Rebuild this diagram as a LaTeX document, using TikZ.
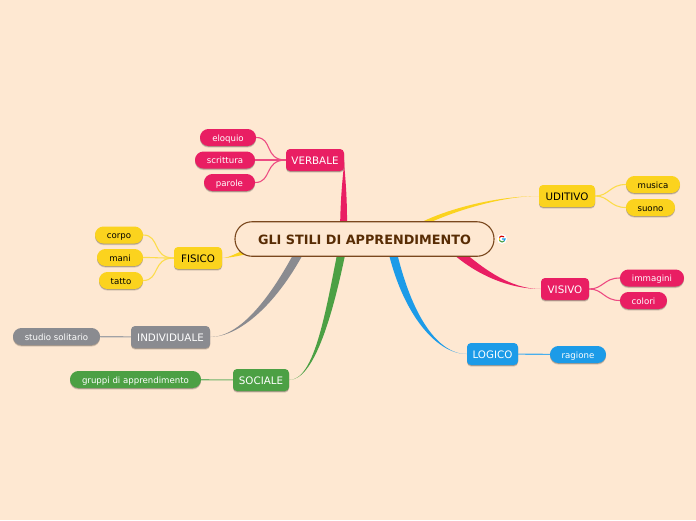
\documentclass[tikz,border=0pt]{standalone}
\usepackage{fontspec}
\setmainfont{DejaVu Sans}
\usetikzlibrary{calc,shadows,backgrounds}
\definecolor{paper}{RGB}{254,232,210}
\definecolor{rootline}{RGB}{122,72,30}
\definecolor{roottext}{RGB}{88,44,4}
\definecolor{mapred}{RGB}{233,30,99}
\definecolor{mapyellow}{RGB}{251,211,30}
\definecolor{mapgray}{RGB}{138,139,144}
\definecolor{mapgreen}{RGB}{76,160,68}
\definecolor{mapblue}{RGB}{28,155,232}
\tikzset{
  boxshadow/.style={drop shadow={shadow xshift=0pt,shadow yshift=-1.6pt,opacity=.14,fill=black},drop shadow={shadow xshift=0pt,shadow yshift=-.8pt,opacity=.22,fill=black}},
  rootbox/.style={draw=rootline,line width=1.1pt,fill=paper,rounded corners=17pt,inner sep=0pt,text=roottext,text height=13pt,text depth=2pt,font=\fontsize{12.8}{14}\selectfont\bfseries},
  topicbox/.style={fill=#1,boxshadow,rounded corners=4pt,inner sep=0pt,text height=10.6pt,text depth=2pt,font=\fontsize{10.3}{12}\selectfont},
  leafbox/.style={fill=#1,boxshadow,rounded corners=8.4pt,inner sep=0pt,text height=8.8pt,text depth=1.4pt,font=\fontsize{8.6}{10}\selectfont},
  twig/.style={draw=#1!80!white,line width=1.1pt}
}
% start, offset, control, control, end
\newcommand{\taperbranch}[6]{
  \fill[#1] ($(#2)+(#3)$) .. controls ($(#4)+(#3)$) and (#5) .. (#6)
    .. controls (#5) and ($(#4)-(#3)$) .. ($(#2)-(#3)$) -- cycle;
}
\begin{document}
\begin{tikzpicture}[x=1pt,y=-1pt]
\useasboundingbox (0,0) rectangle (696,520);
% root:
\node[rootbox,minimum width=259pt,minimum height=34.5pt] (root) at (364.5,239) {GLI STILI DI APPRENDIMENTO};
% topics:
\node[topicbox=mapred,text=white,minimum width=58pt,minimum height=22pt] (verbale) at (315,160) {VERBALE};
\node[topicbox=mapyellow,minimum width=48pt,minimum height=22pt] (fisico) at (198,258) {FISICO};
\node[topicbox=mapgray,text=white,minimum width=79pt,minimum height=22pt] (individuale) at (170.5,337) {INDIVIDUALE};
\node[topicbox=mapgreen,text=white,minimum width=56pt,minimum height=22pt] (sociale) at (261,380) {SOCIALE};
\node[topicbox=mapblue,text=white,minimum width=51pt,minimum height=22pt] (logico) at (492.5,354) {LOGICO};
\node[topicbox=mapred,text=white,minimum width=48pt,minimum height=22pt] (visivo) at (565,289) {VISIVO};
\node[topicbox=mapyellow,minimum width=56pt,minimum height=22pt] (uditivo) at (567,196) {UDITIVO};
% leaves:
\node[leafbox=mapred,text=white,minimum width=56pt,minimum height=17pt] (eloquio) at (228,137.5) {eloquio};
\node[leafbox=mapred,text=white,minimum width=60pt,minimum height=17pt] (scrittura) at (225,160) {scrittura};
\node[leafbox=mapred,text=white,minimum width=51pt,minimum height=17pt] (parole) at (229.5,182.5) {parole};
\node[leafbox=mapyellow,minimum width=48pt,minimum height=17pt] (corpo) at (119,235) {corpo};
\node[leafbox=mapyellow,minimum width=46pt,minimum height=17pt] (mani) at (120,257.5) {mani};
\node[leafbox=mapyellow,minimum width=44pt,minimum height=17pt] (tatto) at (121,280.5) {tatto};
\node[leafbox=mapgray,text=white,minimum width=87pt,minimum height=17pt] (studio) at (56.5,336.5) {studio solitario};
\node[leafbox=mapgreen,text=white,minimum width=131pt,minimum height=17pt] (gruppi) at (135.5,379.5) {gruppi di apprendimento};
\node[leafbox=mapblue,text=white,minimum width=56pt,minimum height=17pt] (ragione) at (578,354.5) {ragione};
\node[leafbox=mapred,text=white,minimum width=64pt,minimum height=17pt] (immagini) at (652,278) {immagini};
\node[leafbox=mapred,text=white,minimum width=47pt,minimum height=17pt] (colori) at (643.5,300.5) {colori};
\node[leafbox=mapyellow,minimum width=54pt,minimum height=17pt] (musica) at (653,184.5) {musica};
\node[leafbox=mapyellow,minimum width=49pt,minimum height=17pt] (suono) at (650.5,207.5) {suono};
% google mark:
\node[circle,fill=white,minimum size=10pt,inner sep=0pt] (gmark) at (502,239) {};
\draw[mapblue,line width=1.1pt] (gmark.center) -- +(3,0) arc[start angle=0,end angle=45,radius=3];
\draw[red!85!black,line width=1.1pt] ($(gmark.center)+(2.12,-2.12)$) arc[start angle=-45,end angle=-150,radius=3];
\draw[mapyellow,line width=1.1pt] ($(gmark.center)+(-2.6,-1.5)$) arc[start angle=-150,end angle=-210,radius=3];
\draw[mapgreen,line width=1.1pt] ($(gmark.center)+(-2.6,1.5)$) arc[start angle=150,end angle=45,radius=3];
% twigs:
\foreach \leaf in {eloquio,scrittura,parole}
  \draw[twig=mapred] (\leaf.east) .. controls +(17,0) and +(-22,0) .. (verbale.west);
\foreach \leaf in {corpo,mani,tatto}
  \draw[twig=mapyellow] (\leaf.east) .. controls +(17,0) and +(-22,0) .. (fisico.west);
\foreach \leaf in {immagini,colori}
  \draw[twig=mapred] (visivo.east) .. controls +(14,0) and +(-16,0) .. (\leaf.west);
\foreach \leaf in {musica,suono}
  \draw[twig=mapyellow] (uditivo.east) .. controls +(14,0) and +(-16,0) .. (\leaf.west);
\draw[twig=mapgray] (studio) -- (individuale);
\draw[twig=mapgreen] (gruppi) -- (sociale);
\draw[twig=mapblue] (ragione) -- (logico);
% branches:
\begin{pgfonlayer}{background}
\fill[paper] (0,0) rectangle (696,520);
\taperbranch{mapred}{343.5,232}{3.5,0}{344,188}{344,170}{verbale.east}
\taperbranch{mapyellow}{254,250}{.7,2.4}{240,253}{230,258}{fisico.east}
\taperbranch{mapgray}{303,245}{3.5,2.5}{275,300}{240,337}{individuale.east}
\taperbranch{mapgreen}{343,245}{4,0.5}{330,310}{315,380}{sociale.east}
\taperbranch{mapblue}{391,245}{4,-1}{405,310}{435,354}{logico.west}
\taperbranch{mapred}{455,250}{2.5,-3.5}{480,272}{510,289}{visivo.west}
\taperbranch{mapyellow}{420,225}{1,-2.6}{450,210}{500,196}{uditivo.west}
\end{pgfonlayer}
\end{tikzpicture}
\end{document}
